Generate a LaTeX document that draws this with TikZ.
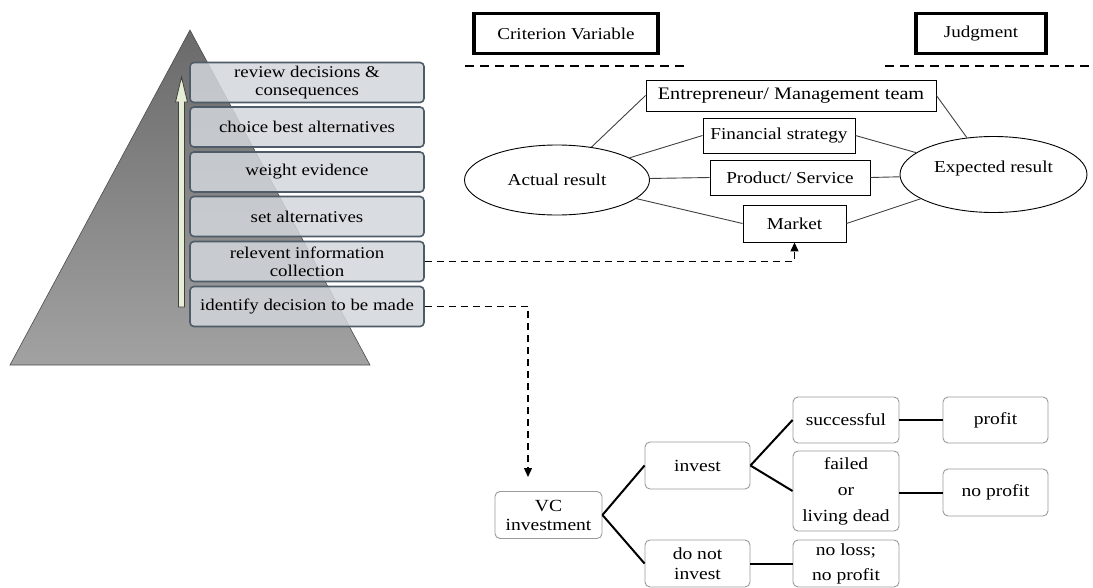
\documentclass[tikz,border=0pt]{standalone}
\usepackage{fontspec}
\setmainfont{Liberation Serif}[FakeStretch=1.15]
\usetikzlibrary{positioning, shapes.geometric, arrows.meta}

\definecolor{pyrtop}{HTML}{6A6A6A}
\definecolor{pyrbot}{HTML}{A2A2A2}
\definecolor{stepfill}{HTML}{D2D6DB}
\definecolor{stepline}{HTML}{4E5B68}
\definecolor{arrfill}{HTML}{E6EED6}
\definecolor{treeline}{HTML}{9A9A9A}

\tikzset{
  stepbox/.style={draw=stepline, line width=1.6pt, fill=stepfill, fill opacity=0.85,
    text opacity=1, rounded corners=4pt, minimum width=234pt, minimum height=40pt,
    align=center, inner sep=1pt, font=\fontsize{16.4}{18}\selectfont},
  headbox/.style={draw, line width=3.5pt, minimum height=40pt, inner sep=2pt,
    font=\fontsize{16.6}{18}\selectfont},
  factbox/.style={draw, line width=0.9pt, inner sep=2pt, font=\fontsize{16.7}{18}\selectfont},
  resultell/.style={ellipse, draw, line width=0.9pt, inner sep=0pt, align=center,
    font=\fontsize{16.7}{18}\selectfont},
  treebox/.style={draw=treeline, line width=0.9pt, rounded corners=5pt, align=center,
    inner sep=1pt, fill=white, font=\fontsize{17}{24}\selectfont},
  dasharrow/.style={line width=1.3pt, dash pattern=on 7pt off 5pt,
    -{Triangle[length=9pt,width=8pt]}},
  separator/.style={line width=2pt, dash pattern=on 9pt off 6pt},
}

\begin{document}
\begin{tikzpicture}[x=1pt,y=-1pt]
  \useasboundingbox (0,0) rectangle (1093,587);
  % pyramid
  \shadedraw[top color=pyrtop, bottom color=pyrbot, draw=black!70, line width=0.6pt]
    (190,30) -- (370,365) -- (10,365) -- cycle;
  \begin{scope}[every node/.style={stepbox}]
    \node (review) at (307,82.5) {review decisions \&\\consequences};
    \node (choice) at (307,127) {choice best alternatives};
    \node (weight) at (307,172) {weight evidence};
    \node (setalt) at (307,216.5) {set alternatives};
    \node (relev) at (307,261.5) {relevent information\\collection};
    \node (ident) at (307,306.5) {identify decision to be made};
  \end{scope}
  % upward arrow
  \filldraw[fill=arrfill, draw=black!75, line width=0.8pt]
    (178.5,307) -- (178.5,102) -- (175.5,102) -- (181.5,77) -- (187.5,102)
    -- (184.5,102) -- (184.5,307) -- cycle;

  % criterion / judgment
  \node[headbox, minimum width=184pt] (crit) at (566,33.5) {Criterion Variable};
  \node[headbox, minimum width=130pt] (judg) at (981,33.5) {Judgment};
  \draw[separator] (465,66) -- (688,66);
  \draw[separator] (885,66) -- (1090,66);
  \begin{scope}[every node/.style={factbox}]
    \node[minimum width=290pt, minimum height=31pt, font=\fontsize{17.6}{18}\selectfont] (ent) at (791,95.5) {Entrepreneur/ Management team};
    \node[minimum width=152pt, minimum height=35pt] (fin) at (779,135.5) {Financial strategy};
    \node[minimum width=160pt, minimum height=35pt] (prod) at (790,177.5) {Product/ Service};
    \node[minimum width=103pt, minimum height=37pt] (mkt) at (794.5,223.5) {Market};
  \end{scope}
  \node[resultell, minimum width=185pt, minimum height=70pt] (act) at (557,180) {Actual result};
  \node[resultell, minimum width=187pt, minimum height=76pt] (exp) at (993.5,174.5) {Expected result\\[-2pt]};
  \begin{scope}[draw=black!75, line width=0.9pt]
    \path (act) edge (ent.west);
    \path (act) edge (fin.west);
    \path (act) edge (prod.west);
    \path (act) edge (mkt.west);
    \path (exp) edge (ent.east);
    \path (exp) edge (fin.east);
    \path (exp) edge (prod.east);
    \path (exp) edge (mkt.east);
  \end{scope}

  % decision tree
  \begin{scope}[every node/.style={treebox}]
    \node[minimum width=107pt, minimum height=47pt] (vc) at (548.5,515) {VC\\[-5pt]investment};
    \node[minimum width=105pt, minimum height=47pt] (inv) at (697.5,465.5) {invest};
    \node[minimum width=105pt, minimum height=47pt] (noinv) at (697.5,563.5) {do not\\[-4pt]invest};
    \node[minimum width=106pt, minimum height=46pt] (succ) at (846,420) {successful};
    \node[minimum width=106pt, minimum height=80pt] (fail) at (846,491) {failed\\[2pt]or\\[2pt]living dead};
    \node[minimum width=106pt, minimum height=47pt] (noloss) at (846,563.5) {no loss;\\[1pt]no profit};
    \node[minimum width=105pt, minimum height=46pt] (prof) at (995.5,420) {profit};
    \node[minimum width=105pt, minimum height=47pt] (noprof) at (995.5,492.5) {no profit};
  \end{scope}
  \begin{scope}[line width=2pt]
    \path (vc.east) edge (inv.west);
    \path (vc.east) edge (noinv.west);
    \path (inv.east) edge (succ.west);
    \path (inv.east) edge (fail.west);
    \path (succ) edge (prof);
    \path (fail.east |- noprof) edge (noprof);
    \path (noinv) edge (noloss);
  \end{scope}

  % links from the steps
  \coordinate (vcin) at (528,477);
  \draw[dasharrow] (relev.east) -| (mkt.south);
  \draw[dasharrow] (ident.east) -| (vcin);
\end{tikzpicture}
\end{document}
